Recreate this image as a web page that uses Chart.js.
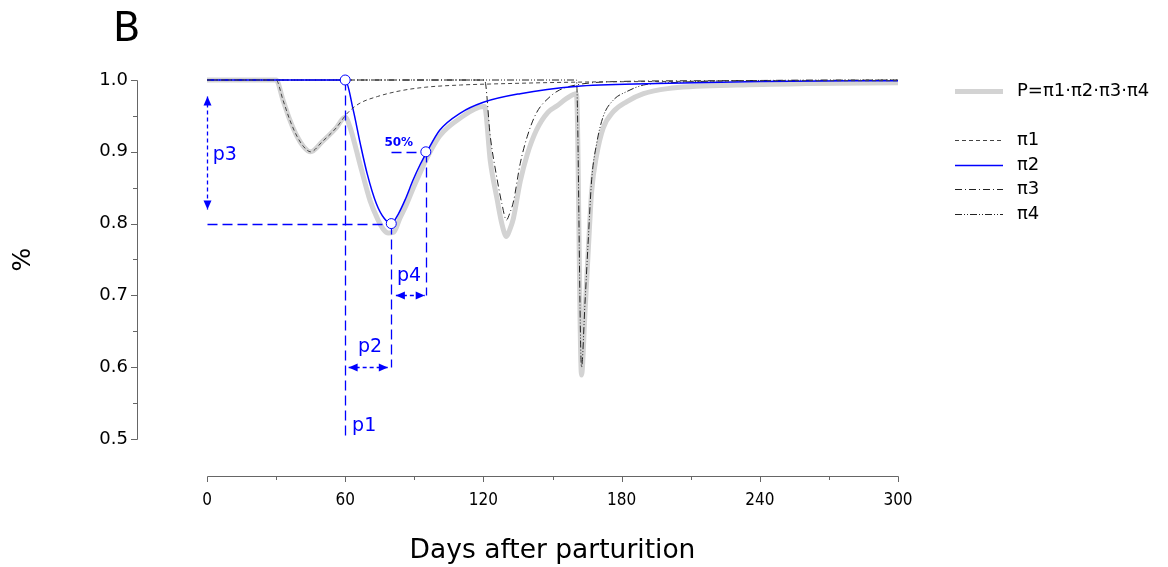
<!DOCTYPE html>
<html>
<head>
<meta charset="utf-8">
<script src="https://cdn.jsdelivr.net/npm/chart.js@4.4.0/dist/chart.umd.min.js"></script>
<style>
  body { margin: 0; background: #fff; }
</style>
</head>
<body>
<canvas id="myChart" width="1168" height="567"></canvas>
<script>
// values (days after parturition -> fraction)
const daysPi1 = [0, 30, 33, 36, 39, 42, 45, 50, 56, 61, 66, 74, 84, 95, 110, 130, 160, 200, 250, 300];
const pi1 = [1, 1, 0.972, 0.944, 0.922, 0.907, 0.900, 0.914, 0.933, 0.954, 0.967, 0.977, 0.985, 0.990, 0.993, 0.995, 0.997, 0.998, 0.999, 0.999];

const daysPi2 = [0, 60, 63.5, 66.5, 69.5, 73.5, 77, 80, 83, 86, 89.5, 92.5, 95.5, 101, 110, 120, 136, 160, 195, 240, 300];
const pi2 = [1, 1, 0.958, 0.912, 0.870, 0.828, 0.807, 0.800, 0.813, 0.833, 0.861, 0.882, 0.900, 0.930, 0.954, 0.969, 0.981, 0.991, 0.995, 0.998, 0.999];

const daysPi3 = [0, 120.5, 123, 126, 128, 130, 131.5, 133, 136, 139, 143, 149, 153, 160, 180, 220, 300];
const pi3 = [1, 1, 0.921, 0.861, 0.828, 0.805, 0.815, 0.830, 0.884, 0.921, 0.954, 0.977, 0.986, 0.993, 0.998, 0.999, 1];

const daysPi4 = [0, 160.4, 162.6, 164.1, 165.6, 167, 169.2, 172, 176.4, 182.3, 189.5, 200, 230, 300];
const pi4 = [1, 1, 0.600, 0.689, 0.782, 0.861, 0.912, 0.949, 0.972, 0.984, 0.993, 0.996, 0.999, 1];

const daysP = [0, 30, 33, 36, 39, 42, 45, 50, 56, 60, 62, 66.4, 70.8, 74, 76.6, 78.7, 81, 83.8, 86.5, 89.6, 92.5, 95.4, 101, 110, 120, 120.5, 123, 126, 128, 130, 131.5, 133, 136, 139, 143, 148, 152, 156, 160.4, 162.6, 164.1, 165.6, 167, 169.2, 172, 176.4, 182.3, 189.5, 200, 230, 260, 300];
const pTotal = [1, 1, 0.972, 0.944, 0.922, 0.907, 0.900, 0.914, 0.933, 0.948, 0.935, 0.883, 0.832, 0.807, 0.792, 0.787, 0.788, 0.808, 0.826, 0.850, 0.871, 0.891, 0.922, 0.947, 0.963, 0.963, 0.887, 0.833, 0.800, 0.782, 0.792, 0.807, 0.859, 0.896, 0.930, 0.955, 0.964, 0.974, 0.981, 0.589, 0.676, 0.767, 0.845, 0.896, 0.933, 0.956, 0.970, 0.981, 0.988, 0.993, 0.995, 0.996];

const xTicks = [0, 60, 120, 180, 240, 300];
const yTicks = [0.5, 0.6, 0.7, 0.8, 0.9, 1.0];

const pts = (xs, ys) => xs.map((d, i) => ({x: d, y: ys[i]}));
const BLUE = '#0000ff';
const FONT = "'DejaVu Sans', sans-serif";

// offset axes, annotations and legend
const extras = {
  id: 'extras',
  afterDraw(chart) {
    const {ctx} = chart;
    const x = chart.scales.x, y = chart.scales.y;
    const X = v => x.getPixelForValue(v), Y = v => y.getPixelForValue(v);
    const sX = v => Math.round(X(v)) + 0.5, sY = v => Math.round(Y(v)) + 0.5;
    ctx.save();

    // panel letter
    ctx.fillStyle = '#000';
    ctx.font = '40px ' + FONT;
    ctx.textBaseline = 'alphabetic';
    ctx.fillText('B', 113, 41);

    // y axis, moved left
    ctx.strokeStyle = '#666';
    ctx.lineWidth = 1;
    ctx.beginPath();
    ctx.moveTo(137.5, sY(1.0)); ctx.lineTo(137.5, sY(0.5));
    for (let v = 0.5; v <= 1.0001; v += 0.05) {
      const major = Math.abs(v * 10 - Math.round(v * 10)) < 1e-6;
      ctx.moveTo(137.5, sY(v)); ctx.lineTo(major ? 131 : 133, sY(v));
    }
    // x axis, moved down
    ctx.moveTo(sX(0), 476.5); ctx.lineTo(sX(300), 476.5);
    for (let v = 0; v <= 300; v += 30) {
      ctx.moveTo(sX(v), 476.5); ctx.lineTo(sX(v), v % 60 === 0 ? 482 : 480);
    }
    ctx.stroke();

    // blue guide lines
    ctx.strokeStyle = BLUE;
    ctx.fillStyle = BLUE;
    ctx.lineWidth = 1.3;
    ctx.setLineDash([10, 5]);
    const seg = (x1, y1, x2, y2) => {
      ctx.beginPath(); ctx.moveTo(x1, y1); ctx.lineTo(x2, y2); ctx.stroke();
    };
    seg(sX(60), sY(1.0), sX(60), sY(0.5));
    seg(sX(0), sY(0.8), sX(80), sY(0.8));
    seg(sX(80), sY(0.8), sX(80), sY(0.6));
    seg(sX(95), sY(0.9), sX(95), sY(0.7));
    seg(sX(80), sY(0.9), sX(95), sY(0.9));

    // double arrows
    ctx.setLineDash([4, 3]);
    const head = (hx, hy, dx, dy) => {
      ctx.beginPath();
      ctx.moveTo(hx, hy);
      ctx.lineTo(hx - dx * 9 - dy * 4, hy - dy * 9 + dx * 4);
      ctx.lineTo(hx - dx * 9 + dy * 4, hy - dy * 9 - dx * 4);
      ctx.closePath();
      ctx.fill();
    };
    const arrow = (x1, y1, x2, y2) => {
      const len = Math.hypot(x2 - x1, y2 - y1);
      const dx = (x2 - x1) / len, dy = (y2 - y1) / len;
      seg(x1, y1, x2, y2);
      head(x2, y2, dx, dy);
      head(x1, y1, -dx, -dy);
    };
    arrow(sX(0), sY(0.978), sX(0), sY(0.82));
    arrow(X(61.5), sY(0.6), X(78.5), sY(0.6));
    arrow(X(82), sY(0.7), X(94.5), sY(0.7));
    ctx.setLineDash([]);

    // labels
    ctx.font = '19px ' + FONT;
    ctx.textBaseline = 'middle';
    ctx.textAlign = 'left';
    ctx.fillText('p3', X(2.5), Y(0.896));
    ctx.fillText('p1', X(63), Y(0.518));
    ctx.textAlign = 'center';
    ctx.fillText('p2', X(70.8), Y(0.628));
    ctx.fillText('p4', X(87.7), Y(0.727));
    ctx.font = 'bold 12px ' + FONT;
    ctx.textAlign = 'right';
    ctx.fillText('50%', X(89.5), Y(0.913));

    // parameter points
    ctx.fillStyle = '#fff';
    ctx.strokeStyle = BLUE;
    ctx.lineWidth = 1;
    [[60, 1.0], [80, 0.8], [95, 0.9]].forEach(([a, b]) => {
      ctx.beginPath();
      ctx.arc(X(a), Y(b), 5, 0, Math.PI * 2);
      ctx.fill(); ctx.stroke();
    });

    // legend
    const rows = [[4, 91], [0, 140], [1, 165], [2, 189], [3, 214]];
    ctx.textAlign = 'left';
    ctx.font = '18px ' + FONT;
    rows.forEach(([i, ly]) => {
      const ds = chart.data.datasets[i];
      ctx.strokeStyle = ds.borderColor;
      ctx.lineWidth = ds.borderWidth;
      ctx.setLineDash(ds.borderDash || []);
      seg(955, ly + 0.5, 1003, ly + 0.5);
      ctx.setLineDash([]);
      ctx.fillStyle = '#000';
      ctx.fillText(ds.label, 1017, ly);
    });
    ctx.restore();
  }
};

new Chart(document.getElementById('myChart'), {
  type: 'line',
  data: {
    datasets: [
      { label: 'π1', data: pts(daysPi1, pi1), borderColor: '#444', borderWidth: 1, borderDash: [4, 3] },
      { label: 'π2', data: pts(daysPi2, pi2), borderColor: BLUE, borderWidth: 1.5 },
      { label: 'π3', data: pts(daysPi3, pi3), borderColor: '#222', borderWidth: 1, borderDash: [7, 3, 1, 3] },
      { label: 'π4', data: pts(daysPi4, pi4), borderColor: '#222', borderWidth: 1, borderDash: [7, 2, 1, 2, 1, 2] },
      { label: 'P=π1·π2·π3·π4', data: pts(daysP, pTotal), borderColor: '#d3d3d3', borderWidth: 5 }
    ]
  },
  options: {
    responsive: false,
    animation: false,
    events: [],
    layout: { padding: { top: 80, right: 270, left: 0, bottom: 0 } },
    elements: {
      point: { radius: 0 },
      line: { cubicInterpolationMode: 'monotone', fill: false }
    },
    datasets: { line: { clip: false } },
    plugins: { legend: { display: false }, tooltip: { enabled: false } },
    scales: {
      x: {
        type: 'linear', min: 0, max: 300,
        afterFit: s => { s.height = 128; s.paddingLeft = 0; s.paddingRight = 0; },
        afterBuildTicks: s => { s.ticks = xTicks.map(v => ({value: v})); },
        grid: { display: false, drawTicks: false },
        border: { display: false },
        ticks: { padding: 51, color: '#000', font: { family: "'DejaVu Sans Condensed', 'DejaVu Sans'", size: 17 } },
        title: { display: true, text: 'Days after parturition', color: '#000', padding: { top: 0, bottom: 0 }, font: { family: "'DejaVu Sans'", size: 26.5 } }
      },
      y: {
        min: 0.5, max: 1.0,
        afterFit: s => { s.width = 207; s.paddingTop = 0; s.paddingBottom = 0; },
        afterBuildTicks: s => { s.ticks = yTicks.map(v => ({value: v})); },
        grid: { display: false, drawTicks: false },
        border: { display: false },
        ticks: { padding: 79, color: '#000', font: { family: "'DejaVu Sans'", size: 18 }, callback: v => v.toFixed(1) },
        title: { display: true, text: '%', color: '#000', padding: { top: 8, bottom: 0 }, font: { family: "'DejaVu Sans'", size: 25 } }
      }
    }
  },
  plugins: [extras]
});
</script>
</body>
</html>
